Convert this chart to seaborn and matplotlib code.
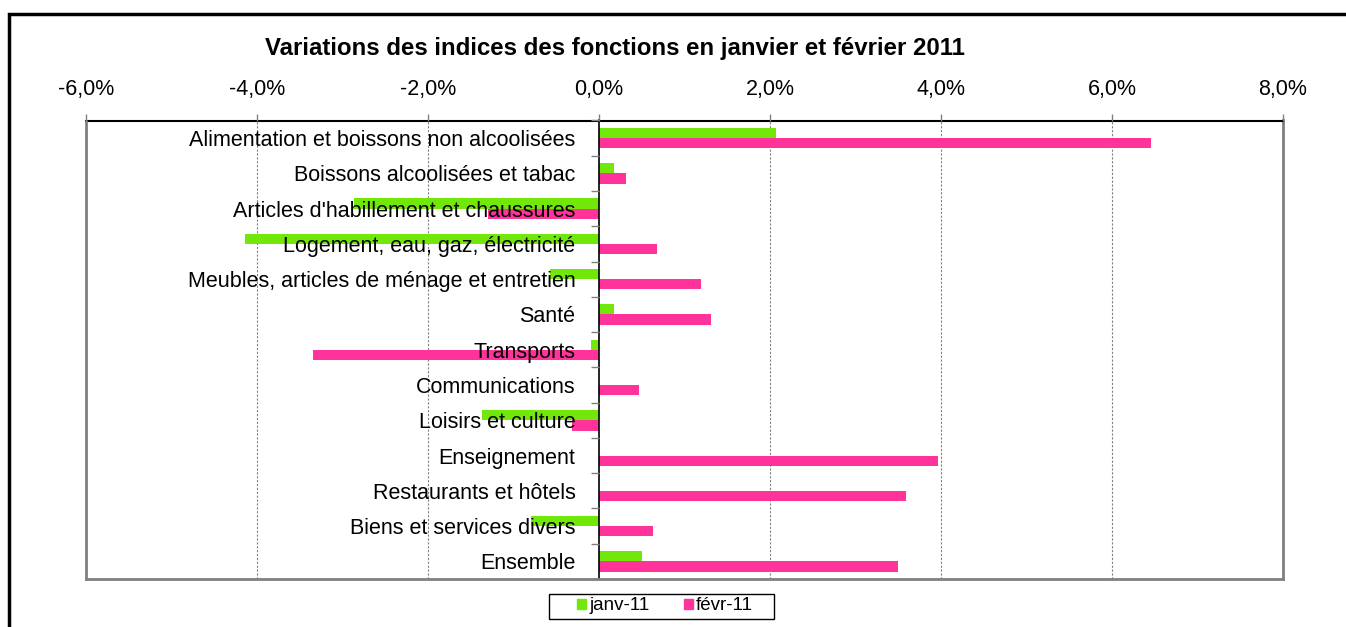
import matplotlib
matplotlib.use("Agg")
import matplotlib.pyplot as plt
import matplotlib.patches as mpatches
from matplotlib.ticker import FixedLocator, FuncFormatter
import numpy as np
import pandas as pd
import seaborn as sns

categories = [
    "Alimentation et boissons non alcoolisées",
    "Boissons alcoolisées et tabac",
    "Articles d'habillement et chaussures",
    "Logement, eau, gaz, électricité",
    "Meubles, articles de ménage et entretien",
    "Santé",
    "Transports",
    "Communications",
    "Loisirs et culture",
    "Enseignement",
    "Restaurants et hôtels",
    "Biens et services divers",
    "Ensemble",
]
janv_11 = [2.07, 0.18, -2.87, -4.14, -0.57, 0.17, -0.09, 0.0, -1.37, 0.0, 0.0, -0.79, 0.50]
fevr_11 = [6.46, 0.31, -1.30, 0.68, 1.19, 1.31, -3.34, 0.47, -0.31, 3.97, 3.59, 0.63, 3.50]
series_names = ["janv-11", "févr-11"]
x_ticks = [-6, -4, -2, 0, 2, 4, 6, 8]
title = "Variations des indices des fonctions en janvier et février 2011"

GREEN = "#72E80A"
PINK = "#FF3399"

df = pd.DataFrame({
    "cat": categories * 2,
    "val": janv_11 + fevr_11,
    "serie": [series_names[0]] * len(categories) + [series_names[1]] * len(categories),
})

sns.set_theme(style="white")
plt.rcParams["font.family"] = ["Liberation Sans", "DejaVu Sans"]
plt.rcParams["text.color"] = "black"

fig = plt.figure(figsize=(13.46, 6.27), dpi=100)
ax = fig.add_axes([86 / 1346, 1 - 579 / 627, (1283 - 86) / 1346, (579 - 120.5) / 627])

sns.barplot(data=df, y="cat", x="val", hue="serie", orient="h",
            palette=[GREEN, PINK], width=0.58, gap=0, ax=ax, legend=False,
            edgecolor="none", saturation=1)
ax.set_axisbelow(False)

ax.set_xlim(x_ticks[0], x_ticks[-1])
ax.set_ylim(len(categories) - 0.5, -0.5)
ax.set_xlabel("")
ax.set_ylabel("")

# top axis
ax.xaxis.tick_top()
ax.set_xticks(x_ticks)
ax.xaxis.set_major_formatter(FuncFormatter(lambda v, p: f"{v:.1f}%".replace(".", ",")))
ax.tick_params(axis="x", which="major", direction="out", length=5, width=1,
               color="#808080", pad=10, labelsize=15.5, labelcolor="black")

# gridlines behind bars
for t in x_ticks[1:-1]:
    if t != 0:
        ax.axvline(t, color="#808080", lw=0.8, ls=(0, (2, 1.5)), zorder=0.5)

# category axis at zero
ax.spines["left"].set_position(("data", 0))
ax.spines["left"].set_color("black")
ax.spines["left"].set_linewidth(1.2)
ax.spines["top"].set_color("black")
ax.spines["top"].set_linewidth(1.5)
for s in ["right", "bottom"]:
    ax.spines[s].set_color("#808080")
    ax.spines[s].set_linewidth(2)
ax.plot([0, 0], [0, 1], transform=ax.transAxes, color="#808080", lw=2,
        clip_on=False, zorder=3)

ax.yaxis.set_minor_locator(FixedLocator(np.arange(len(categories) + 1) - 0.5))
ax.tick_params(axis="y", which="major", length=0, pad=17, labelsize=15.5, labelcolor="black")
ax.tick_params(axis="y", which="minor", left=True, length=6, width=1, color="#808080",
               direction="out")

# title
fig.text(615 / 1346, 1 - 49 / 627, title, ha="center", va="center",
         fontsize=17.3, fontweight="bold", color="black")

# legend (frameless, with a drawn box)
handles = [mpatches.Patch(color=GREEN, label=series_names[0]),
           mpatches.Patch(color=PINK, label=series_names[1])]
leg = fig.legend(handles=handles, loc="center", bbox_to_anchor=(665 / 1346, 1 - 606 / 627),
                 ncol=2, frameon=False, fontsize=13.5,
                 handlelength=0.5, handleheight=0.5, handletextpad=0.18,
                 columnspacing=1.8, borderpad=0.1)
for t in leg.get_texts():
    t.set_color("black")
fig.patches.append(mpatches.Rectangle((549 / 1346, 1 - 618.5 / 627), 225 / 1346, 24.5 / 627,
                                      transform=fig.transFigure, fill=False,
                                      edgecolor="black", lw=1))

# outer chart border
fig.patches.append(mpatches.Rectangle((8.5 / 1346, -0.1), 1.2, 1.1 - 13.5 / 627,
                                      transform=fig.transFigure, fill=False,
                                      edgecolor="black", lw=2.5))

fig.savefig("out.png", dpi=100)
